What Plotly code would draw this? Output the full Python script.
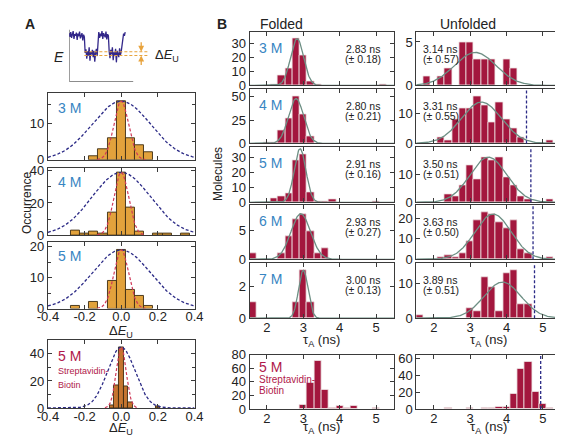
import numpy as np
import plotly.graph_objects as go

W, H = 563, 436

# ---------------- data ----------------
# Panel A inset: energy trace (arbitrary units)
inset_time = list(range(71))
inset_E = [
    0.93, 0.86, 0.95, 0.84, 0.90, 0.97, 0.82, 0.91, 0.88, 0.94,
    0.80, 0.92, 0.87, 0.96, 0.83, 0.89, 0.93, 0.79, 0.90, 0.86,
    0.55, 0.62, 0.44, 0.58, 0.50, 0.66, 0.40, 0.57, 0.52, 0.61,
    0.47, 0.59, 0.38, 0.55, 0.63, 0.49,
    0.90, 0.95, 0.84, 0.92, 0.87, 0.97, 0.82, 0.93, 0.89, 0.85, 0.96, 0.81, 0.91, 0.88,
    0.58, 0.45, 0.61, 0.52, 0.66, 0.41, 0.56, 0.50, 0.63, 0.37, 0.59, 0.53, 0.47, 0.64, 0.51, 0.57,
    0.70, 0.85, 0.92, 0.88, 0.95,
]
inset_levels = [0.574, 0.50]
inset_level_span = [19, 98]
inset_arrow_x = 90

# Panel A histograms of ΔE_U
A_names = ["3 M", "4 M", "5 M", "5 M"]
A_x = [
    [-0.15, -0.10, -0.05, 0.00, 0.05, 0.10, 0.15],
    [-0.25, -0.20, -0.15, -0.10, -0.05, 0.00, 0.05, 0.10, 0.20, 0.25, 0.35],
    [-0.25, -0.15, -0.05, 0.00, 0.05, 0.10, 0.15],
    [-0.050, -0.025, 0.000, 0.025, 0.050, 0.200],
]
A_y = [
    [1, 3, 6, 16, 6, 4, 2],
    [3, 1, 2, 1, 14, 39, 17, 2, 1, 1, 1],
    [1, 2, 9, 19, 6, 4, 1],
    [2, 17, 45, 16, 4, 1],
]
A_binwidth = [0.05, 0.05, 0.05, 0.025]
A_peak = [16, 39, 19, 45]
A_blue_sigma = [0.16, 0.16, 0.16, 0.075]
A_red_sigma = [0.04, 0.04, 0.04, 0.027]
A_ymax = [18.2, 42, 21.6, 50]
A_dtick = [10, 20, 10, 20]
A_xtick_vals = [-0.4, -0.2, 0.0, 0.2, 0.4]
A_xtick_text = ["-0.4", "-0.2", "0.0", "0.2", "0.4"]

# Panel B: lifetime histograms (0.2 ns bins)
B_names = ["3 M", "4 M", "5 M", "6 M", "7 M", "5 M"]
F_x = [
    [2.2, 2.4, 2.6, 2.8, 3.0, 3.2, 3.4, 5.2],
    [2.0, 2.2, 2.4, 2.6, 2.8, 3.0, 3.2],
    [2.2, 2.4, 2.6, 2.8, 3.0, 3.2, 3.4, 3.6, 3.8, 5.0],
    [1.6, 2.4, 2.6, 2.8, 3.0, 3.2, 3.4, 3.6],
    [1.6, 2.8, 3.0, 3.2],
    [3.0, 3.2, 3.4, 3.6, 3.8, 4.0, 4.2, 4.4, 5.0],
]
F_y = [
    [1, 7, 12, 33, 21, 3, 1, 1],
    [1, 1, 14, 27, 50, 31, 8],
    [3, 4, 6, 28, 32, 7, 1, 1, 2, 1],
    [1, 1, 4, 7, 8, 5, 1, 2],
    [1, 1, 3, 1],
    [6, 38, 71, 28, 1, 5, 1, 4, 1],
]
F_mean = [2.83, 2.80, 2.91, 2.93, 3.00]
F_sd = [0.18, 0.21, 0.16, 0.27, 0.13]
F_amp = [33, 48, 36, 8, 3]
F_ymax = [37.5, 58, 37, 9.5, 3.45, 80]
F_dtick = [10, 25, 10, 5, 2, 20]

U_x = [
    [1.8, 2.2, 2.4, 2.8, 3.0, 3.2, 3.4, 3.6, 4.0, 4.2],
    [2.2, 2.4, 2.6, 2.8, 3.0, 3.2, 3.4, 3.6, 3.8, 4.0, 4.2, 4.4, 5.2],
    [2.4, 2.6, 2.8, 3.0, 3.2, 3.4, 3.6, 3.8, 4.0, 4.2, 4.4, 4.6, 5.2],
    [2.2, 2.4, 2.6, 2.8, 3.0, 3.2, 3.4, 3.6, 3.8, 4.0, 4.2, 4.4, 4.6, 5.2],
    [1.6, 3.0, 3.2, 3.4, 3.6, 3.8, 4.0, 4.2, 4.4, 4.6],
    [2.4, 3.0, 3.4, 3.6, 3.8, 4.0, 4.2, 4.4, 4.6, 4.8, 5.0, 5.2],
]
U_y = [
    [1, 1, 2, 5, 5, 3, 3, 3, 3, 2],
    [2, 1, 8, 12, 12, 16, 13, 7, 14, 8, 5, 2, 1],
    [3, 2, 6, 13, 8, 16, 15, 16, 9, 6, 2, 1, 1],
    [1, 2, 1, 3, 9, 19, 23, 22, 18, 15, 19, 5, 3, 1],
    [1, 3, 2, 12, 9, 2, 13, 14, 4, 4],
    [1, 1, 1, 1, 2, 2, 18, 48, 56, 20, 6, 1],
]
U_mean = [3.14, 3.31, 3.50, 3.63, 3.89]
U_sd = [0.57, 0.55, 0.51, 0.50, 0.51]
U_amp = [3.8, 14, 16, 22, 10.5]
U_ymax = [6.1, 18.3, 19.5, 26.3, 16, 64]
U_dtick = [5, 10, 10, 10, 10, 20]
U_cutoff = [None, 4.55, 4.67, 4.73, 4.77, 4.94]

B_xrange = [1.52, 5.5]
B_bin = 0.2

# ---------------- styles ----------------
FONT = "Liberation Sans, Arial, Helvetica, sans-serif"
FRAME = "#3a3a3a"
BAR_B = "#A3173E"
BAR_B_EDGE = "#eee4e4"
BAR_A = "#E2A23C"
BAR_A_EDGE = "#3d2d12"
BAR_A_STREP = "#C57530"
FIT = "#6d8f84"
NAVY = "#2b2a86"
RED = "#d03858"
ORANGE = "#E8A33D"
LBL_BLUE = "#3785c2"
LBL_RED = "#b0184a"


def px(x):
    return x / W


def py(y):
    return 1 - y / H


def xid(n):
    return "x" if n == 1 else f"x{n}"


def yid(n):
    return "y" if n == 1 else f"y{n}"


def axis(domain, anchor, rng, showlabels, dtick=None, tickvals=None, ticktext=None,
         minor=None, standoff=None):
    d = dict(domain=domain, anchor=anchor, range=rng, showticklabels=showlabels,
             ticks="inside", ticklen=4, tickwidth=1, tickcolor=FRAME,
             showline=True, linecolor=FRAME, linewidth=1, mirror="ticks",
             showgrid=False, zeroline=False, fixedrange=True,
             tickfont=dict(size=13, color="#222", family=FONT))
    if dtick is not None:
        d["dtick"] = dtick
        d["tick0"] = 0
    if tickvals is not None:
        d["tickmode"] = "array"
        d["tickvals"] = tickvals
        d["ticktext"] = ticktext
    if minor is not None:
        d["minor"] = dict(dtick=minor, ticks="inside", ticklen=3, tickcolor=FRAME, showgrid=False)
    if standoff is not None:
        d["ticklabelstandoff"] = standoff
    return d


fig = go.Figure()
lay = {}
ann = []
shapes = []


def text(x, y, s, size=13, color="#222", xanchor="center", yanchor="middle", angle=0):
    ann.append(dict(x=px(x), y=py(y), xref="paper", yref="paper", text=s, showarrow=False,
                    xanchor=xanchor, yanchor=yanchor, textangle=angle,
                    font=dict(size=size, color=color, family=FONT)))


# ---------------- Panel A ----------------
A_rows = [(81, 150), (158, 228), (235, 304), (337, 407)]
A_show = [False, False, True, True]
for i in range(4):
    n = i + 1
    r0, r1 = A_rows[i]
    lay["xaxis" if n == 1 else f"xaxis{n}"] = axis([px(30), px(182)], yid(n), [-0.4, 0.4], A_show[i],
                                                   tickvals=A_xtick_vals, ticktext=A_xtick_text,
                                                   standoff=-4)
    lay["yaxis" if n == 1 else f"yaxis{n}"] = axis([py(r1), py(r0)], xid(n), [0, A_ymax[i]], True,
                                                   dtick=A_dtick[i], minor=A_dtick[i] / 2)
    fig.add_trace(go.Bar(x=A_x[i], y=A_y[i], width=A_binwidth[i], xaxis=xid(n), yaxis=yid(n),
                         marker=dict(color=BAR_A_STREP if i == 3 else BAR_A,
                                     line=dict(color=BAR_A_EDGE, width=0.9))))
    xs = np.linspace(-0.4, 0.4, 241)
    fig.add_trace(go.Scatter(x=xs, y=A_peak[i] * np.exp(-xs ** 2 / (2 * A_blue_sigma[i] ** 2)),
                             mode="lines", xaxis=xid(n), yaxis=yid(n),
                             line=dict(color=NAVY, width=1.3, dash="3px,2px")))
    xr = np.linspace(-3.3 * A_red_sigma[i], 3.3 * A_red_sigma[i], 81)
    fig.add_trace(go.Scatter(x=xr, y=A_peak[i] * np.exp(-xr ** 2 / (2 * A_red_sigma[i] ** 2)),
                             mode="lines", xaxis=xid(n), yaxis=yid(n),
                             line=dict(color=RED, width=1.2, dash="3px,2px")))
    if i < 3:
        text(38, r0 + 15, A_names[i], size=14, color=LBL_BLUE, xanchor="left")
    else:
        text(38, r0 + 16, A_names[i], size=14, color=LBL_RED, xanchor="left")
        text(38, r0 + 32, "Streptavidin-", size=9, color=LBL_RED, xanchor="left")
        text(38, r0 + 46, "Biotin", size=9, color=LBL_RED, xanchor="left")

text(106, 328, "Δ<i>E</i><sub>U</sub>", size=13)
text(106, 428, "Δ<i>E</i><sub>U</sub>", size=13)
text(9, 195, "Occurrence", size=12, angle=-90)
text(4, 9, "<b>A</b>", size=14, xanchor="left")

# inset
lay["xaxis5"] = dict(domain=[px(52), px(135)], anchor="y5", range=[0, 100], visible=False, fixedrange=True)
lay["yaxis5"] = dict(domain=[py(69), py(15)], anchor="x5", range=[0, 1], visible=False, fixedrange=True)
fig.add_trace(go.Scatter(x=[0, 0, 80], y=[1, 0, 0], mode="lines", xaxis="x5", yaxis="y5",
                         line=dict(color="#666", width=1.2)))
fig.add_trace(go.Scatter(x=inset_time, y=inset_E, mode="lines", xaxis="x5", yaxis="y5",
                         line=dict(color="#33288a", width=1.3)))
for lv in inset_levels:
    fig.add_trace(go.Scatter(x=inset_level_span, y=[lv, lv], mode="lines", xaxis="x5", yaxis="y5",
                             line=dict(color=ORANGE, width=1.1, dash="3px,2px")))
ann.append(dict(x=inset_arrow_x, y=inset_levels[0], xref="x5", yref="y5", ax=0, ay=-11,
                showarrow=True, arrowhead=2, arrowsize=0.9, arrowwidth=1.3, arrowcolor=ORANGE, text=""))
ann.append(dict(x=inset_arrow_x, y=inset_levels[1], xref="x5", yref="y5", ax=0, ay=11,
                showarrow=True, arrowhead=2, arrowsize=0.9, arrowwidth=1.3, arrowcolor=ORANGE, text=""))
text(41, 43, "<i>E</i>", size=14)
text(139, 42, "Δ<i>E</i><sub>U</sub>", size=13, xanchor="left")

# ---------------- Panel B ----------------
B_rows = [(18, 73), (77, 133), (137, 194), (197, 253), (257, 314), (352, 408)]
B_show = [False, False, False, False, True, True]
cols = [(239, 389), (412, 562)]
xs = np.linspace(1.45, 5.6, 300)
for c in range(2):
    for i in range(6):
        n = 6 + c * 6 + i
        r0, r1 = B_rows[i]
        c0, c1 = cols[c]
        xv = F_x[i] if c == 0 else U_x[i]
        yv = F_y[i] if c == 0 else U_y[i]
        ymax = F_ymax[i] if c == 0 else U_ymax[i]
        dt = F_dtick[i] if c == 0 else U_dtick[i]
        lay[f"xaxis{n}"] = axis([px(c0), px(c1)], yid(n), B_xrange, B_show[i], dtick=1, standoff=-3)
        lay[f"yaxis{n}"] = axis([py(r1), py(r0)], xid(n), [0, ymax], True, dtick=dt)
        fig.add_trace(go.Bar(x=xv, y=yv, width=B_bin, xaxis=xid(n), yaxis=yid(n),
                             marker=dict(color=BAR_B, line=dict(color=BAR_B_EDGE, width=0.8))))
        if i < 5:
            mu = F_mean[i] if c == 0 else U_mean[i]
            sd = F_sd[i] if c == 0 else U_sd[i]
            amp = F_amp[i] if c == 0 else U_amp[i]
            fig.add_trace(go.Scatter(x=xs, y=amp * np.exp(-(xs - mu) ** 2 / (2 * sd ** 2)),
                                     mode="lines", xaxis=xid(n), yaxis=yid(n),
                                     line=dict(color=FIT, width=1.3)))
            s1 = f"{mu:.2f} ns"
            s2 = f"(± {sd:.2f})"
            if c == 0:
                text(357, r0 + 17, s1, size=10.5)
                text(357, r0 + 28, s2, size=10.5)
                text(247, r0 + 16, B_names[i], size=14, color=LBL_BLUE, xanchor="left")
            else:
                text(417, r0 + 17, s1, size=10.5, xanchor="left")
                text(417, r0 + 28, s2, size=10.5, xanchor="left")
        elif c == 0:
            text(247, r0 + 13, B_names[i], size=14, color=LBL_RED, xanchor="left")
            text(247, r0 + 26, "Streptavidin-", size=10, color=LBL_RED, xanchor="left")
            text(247, r0 + 37, "Biotin", size=10, color=LBL_RED, xanchor="left")
        if c == 1 and U_cutoff[i] is not None:
            shapes.append(dict(type="line", xref=xid(n), yref=f"{yid(n)} domain",
                               x0=U_cutoff[i], x1=U_cutoff[i], y0=0, y1=1,
                               line=dict(color=NAVY, width=1.3, dash="3px,2px")))

for cx in (314, 487):
    text(cx, 337, "τ<sub>A</sub> (ns)", size=13)
    text(cx, 427, "τ<sub>A</sub> (ns)", size=13)
text(207, 165, "Molecules", size=12, angle=-90)
text(203, 9, "<b>B</b>", size=14, xanchor="left")
text(272, 9, "Folded", size=14)
text(466, 9, "Unfolded", size=14)

fig.update_layout(width=W, height=H, margin=dict(l=0, r=0, t=0, b=0),
                  paper_bgcolor="white", plot_bgcolor="white", showlegend=False,
                  bargap=0, font=dict(family=FONT, size=13, color="#222"),
                  annotations=ann, shapes=shapes, **lay)
fig.write_html("out.html")
